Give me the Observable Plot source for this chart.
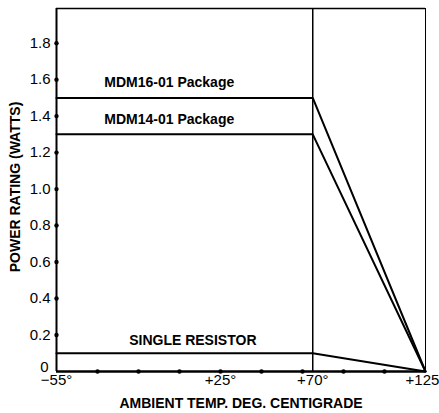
<!DOCTYPE html>
<html><head><meta charset="utf-8">
<script src="https://cdn.jsdelivr.net/npm/d3@7"></script>
<script src="https://cdn.jsdelivr.net/npm/@observablehq/plot@0.6"></script>
<style>
body{margin:0;background:#fff;}
svg{font-family:"Liberation Sans",Arial,sans-serif;}
</style></head><body><div id="chart"></div>
<script>
const temps = [-55, 70, 125];
const mdm16 = [1.5, 1.5, 0];
const mdm14 = [1.3, 1.3, 0];
const single = [0.1, 0.1, 0];
const seriesNames = ["MDM16-01 Package", "MDM14-01 Package", "SINGLE RESISTOR"];
const labelX = [0, 0, 11.5];
const labelY = [1.582, 1.383, 0.168];
const yTicks = [0.2, 0.4, 0.6, 0.8, 1.0, 1.2, 1.4, 1.6, 1.8];
const yTickLabels = ["0.2", "0.4", "0.6", "0.8", "1.0", "1.2", "1.4", "1.6", "1.8"];
const yZeroTick = [0];
const xTicks = [-55, 25, 70, 125];
const xTickLabels = ["\u221255\u00b0", "+25\u00b0", "+70\u00b0", "+125\u00b0"];
const xDots = [-35, -15, 5, 25, 45, 65, 85, 105];

const series = [mdm16, mdm14, single];
const lineData = series.flatMap((s, i) => temps.map((t, j) => ({name: seriesNames[i], x: t, y: s[j]})));
const labels = seriesNames.map((n, i) => ({name: n, x: labelX[i], y: labelY[i]}));
const yTickData = yTicks.map((v, i) => ({v, t: yTickLabels[i]}));
const xTickData = xTicks.map((v, i) => ({v, t: xTickLabels[i]}));

const chart = Plot.plot({
  width: 439, height: 413,
  marginLeft: 56, marginRight: 14, marginTop: 8, marginBottom: 42,
  x: {domain: [-55, 125], axis: null},
  y: {domain: [0, 1.99], axis: null},
  style: {fontFamily: "'Liberation Sans', Arial, sans-serif", fontSize: "15px", color: "black", background: "white"},
  marks: [
    Plot.ruleY([1.99], {stroke: "black", strokeWidth: 1.5}),
    Plot.ruleX([125], {stroke: "black", strokeWidth: 1}),
    Plot.ruleX([70], {stroke: "black", strokeWidth: 1.5}),
    Plot.ruleX([-55], {stroke: "black", strokeWidth: 2}),
    Plot.ruleY([0], {stroke: "black", strokeWidth: 2.5}),
    Plot.line(lineData, {x: "x", y: "y", z: "name", stroke: "black", strokeWidth: 2}),
    Plot.dot(yTicks, {x: () => -55, y: d => d, r: 2.2, fill: "black"}),
    Plot.dot(xDots, {x: d => d, y: () => 0, r: 2.2, fill: "black"}),
    Plot.text(yTickData, {x: () => -55, y: "v", text: "t", dx: -6, textAnchor: "end", fontSize: 15, fill: "black"}),
    Plot.text(yZeroTick, {x: () => -55, y: d => d, text: () => "0", dx: -8, dy: -4, textAnchor: "end", fontSize: 15, fill: "black"}),
    Plot.text(xTickData, {x: "v", y: () => 0, text: "t", dy: 3, lineAnchor: "top", fontSize: 15, fill: "black"}),
    Plot.text(labels, {x: "x", y: "y", text: "name", fontSize: 14, fontWeight: "bold", fill: "black"}),
    Plot.text(["AMBIENT TEMP. DEG. CENTIGRADE"], {frameAnchor: "bottom", lineAnchor: "middle", dy: 32, fontSize: 14, fontWeight: "bold", fill: "black"}),
    Plot.text(["POWER RATING (WATTS)"], {frameAnchor: "left", textAnchor: "middle", dx: -41, dy: -3, rotate: -90, fontSize: 14, fontWeight: "bold", fill: "black"})
  ]
});
document.getElementById("chart").appendChild(chart);
</script></body></html>
